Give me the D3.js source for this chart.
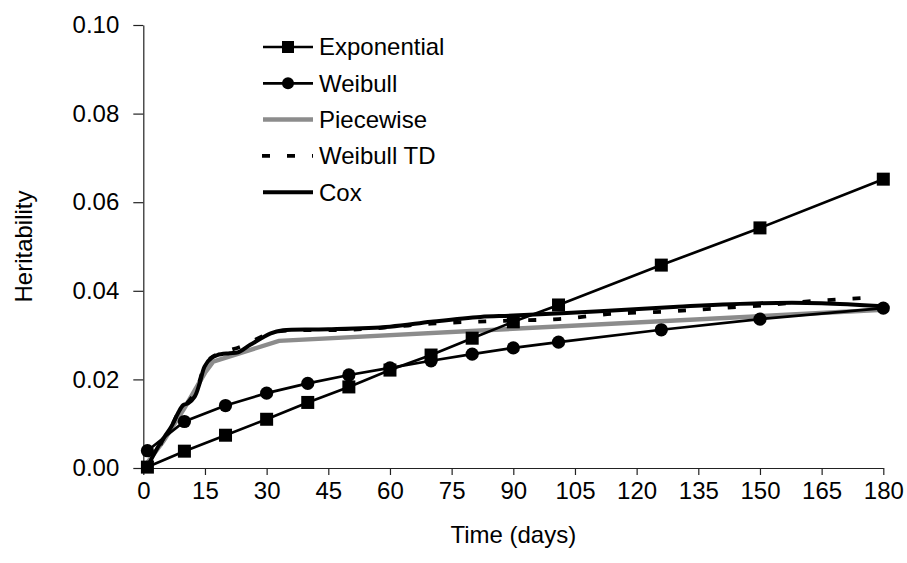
<!DOCTYPE html>
<html>
  <head>
    <meta charset="utf-8" />
    <style>
      body { margin: 0; background: #fff; }
      svg { font-family: "Liberation Sans", Arial, sans-serif; }
    </style>
  </head>
  <body>
    <svg width="907" height="563"></svg>
    <script src="https://d3js.org/d3.v7.min.js"></script>
    <script>
      // values
      var xTicks = [0, 15, 30, 45, 60, 75, 90, 105, 120, 135, 150, 165, 180];
      var yTicks = [0, 0.02, 0.04, 0.06, 0.08, 0.1];

      var markTimes = [1, 10, 20, 30, 40, 50, 60, 70, 80, 90, 101, 126, 150, 180];
      var expValues = [0.0002, 0.0038, 0.0074, 0.011, 0.0148, 0.0183, 0.0221, 0.0255, 0.0293, 0.033, 0.0368, 0.0458, 0.0542, 0.0652];
      var weibullValues = [0.0039, 0.0105, 0.0141, 0.0169, 0.0191, 0.021, 0.0226, 0.0242, 0.0257, 0.0271, 0.0284, 0.0312, 0.0336, 0.0361];

      var pieceTimes = [1, 5, 10, 15, 17, 33, 180];
      var pieceValues = [0.0012, 0.0062, 0.0135, 0.0215, 0.024, 0.0287, 0.0357];

      var tdTimes = [1, 3, 5, 7, 9, 11, 13, 15, 17, 24, 31, 35, 50, 60, 70, 80, 90, 101, 114, 127, 139, 152, 163, 170, 176];
      var tdValues = [0.0004, 0.003, 0.0068, 0.0097, 0.0133, 0.015, 0.0178, 0.0232, 0.0252, 0.0275, 0.0305, 0.031, 0.0312, 0.0318, 0.0326, 0.033, 0.0333, 0.0336, 0.0348, 0.0353, 0.036, 0.0368, 0.0377, 0.0381, 0.0384];

      var coxTimes = [1, 3.6, 5.2, 6.8, 8.4, 9.7, 10.9, 12.5, 13.7, 14.9, 16.5, 18, 21, 23, 26, 31, 34, 45, 60, 70, 82, 90, 111, 130, 150, 165, 180];
      var coxValues = [0.0003, 0.0048, 0.0071, 0.0093, 0.0123, 0.0142, 0.0146, 0.0161, 0.0191, 0.0229, 0.0248, 0.0255, 0.0259, 0.0261, 0.0278, 0.0304, 0.0311, 0.0313, 0.0319, 0.033, 0.0341, 0.0344, 0.0354, 0.0364, 0.0372, 0.0372, 0.0365];

      var legendNames = ["Exponential", "Weibull", "Piecewise", "Weibull TD", "Cox"];

      function zip(ts, vs) {
        return ts.map(function(t, i) { return { t: t, v: vs[i] }; });
      }

      var svg = d3.select("svg");
      var plotLeft = 143.3, plotRight = 883.3, plotTop = 25, plotBottom = 468;
      var fontSize = "24px";

      var x = d3.scaleLinear().domain([0, 180]).range([plotLeft, plotRight]);
      var y = d3.scaleLinear().domain([0, 0.1]).range([plotBottom, plotTop]);

      // axes
      var xAxis = svg.append("g")
        .attr("transform", "translate(0," + plotBottom + ")")
        .call(d3.axisBottom(x).tickValues(xTicks).tickSize(7).tickPadding(7).tickSizeOuter(0));
      var yAxis = svg.append("g")
        .attr("transform", "translate(" + plotLeft + ",0)")
        .call(d3.axisLeft(y).tickValues(yTicks).tickFormat(d3.format(".2f")).tickSize(10).tickPadding(14).tickSizeOuter(0));

      [xAxis, yAxis].forEach(function(a) {
        a.select(".domain").attr("stroke", "#222").attr("stroke-width", 1.2);
        a.selectAll(".tick line").attr("stroke", "#222").attr("stroke-width", 1.2);
        a.selectAll(".tick text").attr("fill", "#000").style("font-size", fontSize)
          .style("font-family", "'Liberation Sans', Arial, sans-serif");
      });

      svg.append("text")
        .attr("x", (plotLeft + plotRight) / 2)
        .attr("y", 543)
        .attr("text-anchor", "middle")
        .style("font-size", fontSize)
        .text("Time (days)");

      svg.append("text")
        .attr("transform", "translate(32," + (plotTop + plotBottom) / 2 + ") rotate(-90)")
        .attr("text-anchor", "middle")
        .style("font-size", fontSize)
        .text("Heritability");

      var straight = d3.line().x(function(d) { return x(d.t); }).y(function(d) { return y(d.v); });
      var smooth = d3.line().curve(d3.curveCatmullRom.alpha(0.5))
        .x(function(d) { return x(d.t); }).y(function(d) { return y(d.v); });

      var plot = svg.append("g");

      // Piecewise
      plot.append("path")
        .datum(zip(pieceTimes, pieceValues))
        .attr("d", straight)
        .attr("fill", "none")
        .attr("stroke", "#8c8c8c")
        .attr("stroke-width", 4.5);

      // Weibull TD
      plot.append("path")
        .datum(zip(tdTimes, tdValues))
        .attr("d", smooth)
        .attr("fill", "none")
        .attr("stroke", "#000")
        .attr("stroke-width", 3.8)
        .attr("stroke-dasharray", "8,17");

      // Cox
      plot.append("path")
        .datum(zip(coxTimes, coxValues))
        .attr("d", smooth)
        .attr("fill", "none")
        .attr("stroke", "#000")
        .attr("stroke-width", 4);

      // Exponential
      var expData = zip(markTimes, expValues);
      plot.append("path")
        .datum(expData)
        .attr("d", straight)
        .attr("fill", "none")
        .attr("stroke", "#000")
        .attr("stroke-width", 2.7);
      plot.selectAll(".sq")
        .data(expData)
        .enter()
        .append("rect")
        .attr("class", "sq")
        .attr("x", function(d) { return x(d.t) - 6.5; })
        .attr("y", function(d) { return y(d.v) - 6.5; })
        .attr("width", 13)
        .attr("height", 13)
        .attr("fill", "#000");

      // Weibull
      var wData = zip(markTimes, weibullValues);
      plot.append("path")
        .datum(wData)
        .attr("d", straight)
        .attr("fill", "none")
        .attr("stroke", "#000")
        .attr("stroke-width", 2.7);
      plot.selectAll(".dot")
        .data(wData)
        .enter()
        .append("circle")
        .attr("class", "dot")
        .attr("cx", function(d) { return x(d.t); })
        .attr("cy", function(d) { return y(d.v); })
        .attr("r", 6.6)
        .attr("fill", "#000");

      // legend
      var legend = svg.append("g");
      legendNames.forEach(function(name, i) {
        var ly = 47 + i * 36.3;
        var row = legend.append("g");
        var line = row.append("line")
          .attr("x1", 263).attr("x2", 313)
          .attr("y1", ly).attr("y2", ly)
          .attr("stroke", "#000");
        if (i === 0 || i === 1) {
          line.attr("stroke-width", 2.7);
          if (i === 0) {
            row.append("rect").attr("x", 282).attr("y", ly - 6).attr("width", 12).attr("height", 12);
          } else {
            row.append("circle").attr("cx", 288).attr("cy", ly).attr("r", 6);
          }
        } else if (i === 2) {
          line.attr("stroke", "#8c8c8c").attr("stroke-width", 4.5);
        } else if (i === 3) {
          line.attr("stroke-width", 3.8).attr("stroke-dasharray", "8,17").attr("x1", 262);
        } else {
          line.attr("stroke-width", 4);
        }
        row.append("text")
          .attr("x", 319)
          .attr("y", ly)
          .attr("dy", "0.35em")
          .style("font-size", fontSize)
          .text(name);
      });
    </script>
  </body>
</html>
